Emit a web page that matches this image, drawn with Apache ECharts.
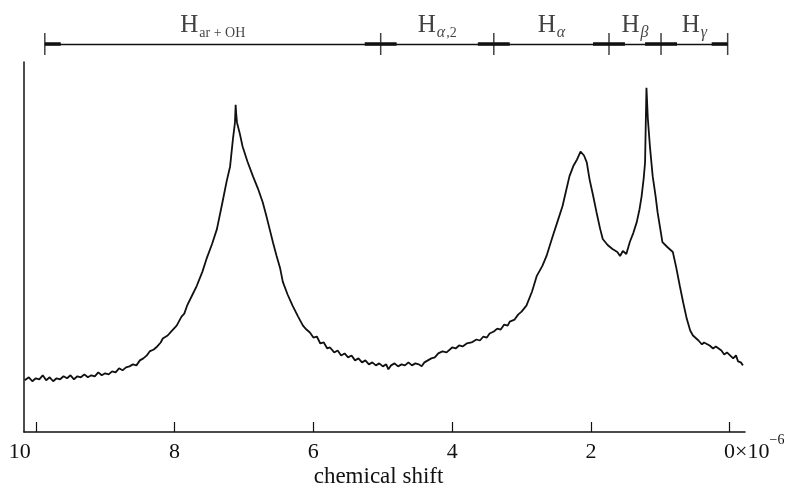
<!DOCTYPE html>
<html>
<head>
<meta charset="utf-8">
<script src="https://cdn.jsdelivr.net/npm/echarts@6/dist/echarts.min.js"></script>
<style>
  html, body { margin: 0; padding: 0; background: #fff; }
  #myChart { width: 793px; height: 493px; }
</style>
</head>
<body>
<div id="myChart"></div>
<script>
// chemical shift (x10^-6) and signal height
let shifts = [10.16, 10.10, 10.05, 10.00, 9.95, 9.90, 9.85, 9.80, 9.75, 9.70,
  9.65, 9.60, 9.55, 9.50, 9.45, 9.40, 9.35, 9.30, 9.25, 9.20,
  9.15, 9.10, 9.05, 9.00, 8.95, 8.90, 8.85, 8.80, 8.75, 8.70,
  8.65, 8.60, 8.55, 8.50, 8.45, 8.40, 8.36, 8.30, 8.25, 8.20,
  8.17, 8.10, 8.05, 7.97, 7.90, 7.86, 7.82, 7.75, 7.68, 7.60,
  7.54, 7.46, 7.39, 7.31, 7.25, 7.20, 7.16, 7.13, 7.12, 7.11,
  7.10,
  7.06, 7.02, 6.95, 6.87, 6.80, 6.73, 6.68, 6.63, 6.58, 6.53,
  6.48, 6.44, 6.37, 6.30, 6.22, 6.15, 6.10,
  6.05, 6.00, 5.95, 5.90, 5.85, 5.80, 5.76, 5.70, 5.65, 5.60,
  5.55, 5.50, 5.45, 5.40, 5.35, 5.30, 5.25, 5.20, 5.15, 5.10,
  5.05, 5.00, 4.95, 4.92, 4.88, 4.83, 4.78, 4.73, 4.68, 4.63,
  4.58, 4.53, 4.48, 4.44, 4.40, 4.35, 4.30, 4.25, 4.20, 4.14,
  4.08, 4.00, 3.95, 3.90, 3.85, 3.79, 3.72, 3.65, 3.60, 3.55,
  3.50, 3.46, 3.40, 3.35, 3.30, 3.25, 3.20, 3.17, 3.10, 3.05,
  3.00, 2.93,
  2.85, 2.78, 2.70, 2.64, 2.55, 2.48, 2.41, 2.36, 2.31, 2.25,
  2.20, 2.15, 2.10, 2.06, 2.02, 1.97, 1.92, 1.87, 1.83, 1.76,
  1.69, 1.62, 1.58, 1.54, 1.49, 1.44, 1.39, 1.34, 1.30, 1.27,
  1.24, 1.22, 1.21, 1.20, 1.18, 1.15, 1.11, 1.07, 1.04, 0.97,
  0.90, 0.82, 0.77, 0.72, 0.67, 0.62, 0.57, 0.53, 0.45, 0.40,
  0.37, 0.29, 0.24, 0.20, 0.12, 0.08, 0.04, -0.05, -0.09, -0.12,
  -0.16, -0.19];
let signal = [52, 55, 51, 54, 53, 57, 52, 55, 51, 54,
  53, 56, 54, 57, 53, 56, 55, 58, 55, 57,
  56, 60, 57, 59, 58, 61, 60, 64, 62, 65,
  66, 68, 67, 72, 74, 77, 81, 83, 86, 90,
  94, 97, 101, 107, 116, 119, 127, 137, 147, 161,
  174, 189, 204, 231, 252, 267, 294, 311, 329, 318,
  311,
  300, 287, 272, 257, 245, 231, 218, 204, 190, 177,
  165, 151, 138, 127, 116, 107, 103,
  100, 95, 96, 89, 90, 84, 85, 80, 82, 77,
  79, 75, 77, 72, 74, 70, 72, 68, 70, 67,
  69, 66, 68, 63, 67, 69, 66, 68, 67, 70,
  67, 69, 68, 66, 70, 72, 74, 75, 79, 81,
  80, 85, 84, 87, 86, 89, 90, 93, 92, 96,
  95, 99, 101, 104, 103, 108, 107, 111, 113, 118,
  121, 127,
  141, 157, 167, 177, 197, 212, 227, 242, 257, 268,
  274, 282, 278, 271, 254, 238, 221, 205, 194, 188,
  184, 181, 177, 182, 179, 191, 200, 211, 224, 237,
  255, 271, 310, 346, 315, 287, 257, 238, 221, 191,
  186, 181, 165, 147, 130, 114, 102, 97, 92, 88,
  90, 87, 84, 86, 82, 78, 80, 74, 77, 71,
  70, 67];

let tickValues = [0, 2, 4, 6, 8, 10];
// band edges for the proton groups, and their names
let bandEdges = [9.87, 5.03, 3.40, 1.74, 0.99, 0.03];
let bandNames = ['{h|H}{s|ar + OH}', '{h|H}{g|α}{s|,2}', '{h|H}{g|α}', '{h|H}{g|β}', '{h|H}{g|γ}'];
let headLen = 0.23; // length of the heavy arrow ends, in shift units

let serif = 'Liberation Serif, Times New Roman, serif';

let chart = echarts.init(document.getElementById('myChart'));

let spectrum = shifts.map((x, i) => [x, signal[i]]);
let bandLines = [];
let bandMids = [];
for (let i = 0; i < bandNames.length; i++) {
  let a = bandEdges[i], b = bandEdges[i + 1];
  bandLines.push([{ coord: [a, 16] }, { coord: [b, 16] }]);
  bandLines.push([{ coord: [a, 16], lineStyle: { width: 3.5 } }, { coord: [a - headLen, 16] }]);
  bandLines.push([{ coord: [b + headLen, 16], lineStyle: { width: 3.5 } }, { coord: [b, 16] }]);
  bandMids.push([(a + b) / 2, 16]);
}

let option = {
  animation: false,
  backgroundColor: '#fff',
  grid: [
    { left: 24, right: 48, top: 62, bottom: 59 },
    { left: 24, right: 48, top: 20, height: 40 }
  ],
  xAxis: [{
    type: 'value',
    inverse: true,
    min: -0.22,
    max: 10.17,
    splitLine: { show: false },
    axisLine: { lineStyle: { color: '#111', width: 1.5 } },
    axisTick: { inside: true, length: 10, customValues: tickValues, lineStyle: { color: '#111', width: 1.2 } },
    axisLabel: {
      customValues: tickValues,
      margin: 7,
      color: '#111',
      fontFamily: serif,
      formatter: function (v) {
        if (v === 0) return '{z|0}{x|×10}{e|−6}';
        if (v === 10) return '{t|10}';
        return '{n|' + v + '}';
      },
      rich: {
        n: { fontSize: 22, lineHeight: 24, padding: [7, 0, 0, 0], verticalAlign: 'bottom', fontFamily: serif, color: '#111' },
        t: { fontSize: 22, lineHeight: 24, padding: [7, 32, 0, 0], verticalAlign: 'bottom', fontFamily: serif, color: '#111' },
        z: { fontSize: 22, lineHeight: 24, padding: [7, 0, 0, 49], verticalAlign: 'bottom', fontFamily: serif, color: '#111' },
        x: { fontSize: 22, lineHeight: 24, padding: [7, 0, 0, 0], verticalAlign: 'bottom', fontFamily: serif, color: '#111' },
        e: { fontSize: 14, lineHeight: 14, padding: [0, 0, 16, 0], verticalAlign: 'bottom', fontFamily: serif, color: '#111' }
      }
    },
    name: 'chemical shift',
    nameLocation: 'middle',
    nameGap: 33,
    nameMoveOverlap: false,
    nameTextStyle: { fontFamily: serif, fontSize: 23, color: '#111', padding: [0, 12, 0, 0] }
  }, {
    type: 'value',
    gridIndex: 1,
    inverse: true,
    min: -0.22,
    max: 10.17,
    show: false
  }],
  yAxis: [{
    type: 'value',
    position: 'left',
    min: 0,
    max: 372,
    splitLine: { show: false },
    axisTick: { show: false },
    axisLabel: { show: false },
    axisLine: { show: true, onZero: false, lineStyle: { color: '#111', width: 1.5 } }
  }, {
    type: 'value',
    gridIndex: 1,
    min: 0,
    max: 40,
    show: false
  }],
  series: [{
    name: 'spectrum',
    type: 'line',
    data: spectrum,
    showSymbol: false,
    lineStyle: { color: '#111', width: 1.8 },
    silent: true
  }, {
    // band arrows
    type: 'line',
    xAxisIndex: 1,
    yAxisIndex: 1,
    data: [],
    markLine: {
      silent: true,
      symbol: ['none', 'none'],
      label: { show: false },
      lineStyle: { color: '#111', width: 1.3, type: 'solid' },
      data: bandLines
    }
  }, {
    // band edge marks
    type: 'scatter',
    xAxisIndex: 1,
    yAxisIndex: 1,
    symbol: 'rect',
    symbolSize: [1.5, 22],
    itemStyle: { color: '#111' },
    data: bandEdges.map(x => [x, 16]),
    silent: true
  }, {
    // band names
    type: 'scatter',
    xAxisIndex: 1,
    yAxisIndex: 1,
    symbolSize: 1,
    itemStyle: { color: 'transparent' },
    data: bandMids,
    silent: true,
    label: {
      show: true,
      position: 'top',
      distance: 3,
      color: '#111',
      formatter: p => bandNames[p.dataIndex],
      rich: {
        h: { fontSize: 25, lineHeight: 26, padding: [0, 0, 3, 0], verticalAlign: 'bottom', fontFamily: serif, color: '#111' },
        s: { fontSize: 14, lineHeight: 14, padding: [0, 0, 0, 1], verticalAlign: 'bottom', fontFamily: serif, color: '#111' },
        g: { fontSize: 16, lineHeight: 16, fontStyle: 'italic', padding: [0, 0, 0, 1], verticalAlign: 'bottom', fontFamily: serif, color: '#111' }
      }
    }
  }]
};

chart.setOption(option);
</script>
</body>
</html>
